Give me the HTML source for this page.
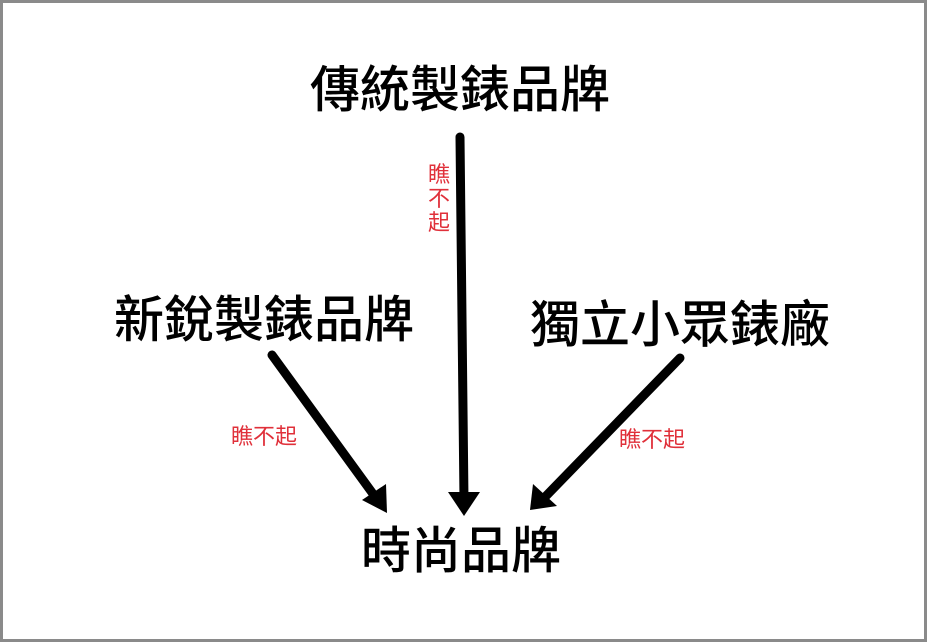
<!DOCTYPE html>
<html><head><meta charset="utf-8"><style>
html,body{margin:0;padding:0}
body{width:927px;height:642px;position:relative;background:#fff;overflow:hidden;font-family:"Liberation Sans","Noto Sans CJK TC",sans-serif}
.frame{position:absolute;left:0;top:0;width:921px;height:636px;border:3px solid #8a8a8a}
.t{position:absolute;font-size:50px;color:#000;white-space:nowrap;line-height:1;font-weight:500}
.r{position:absolute;font-size:22px;color:#e0303a;line-height:1;white-space:nowrap}
svg{position:absolute;left:0;top:0}
</style></head><body>
<div class="frame"></div>
<svg width="927" height="642">
<g stroke="#000" stroke-width="9" stroke-linecap="round" fill="none">
<line x1="460" y1="137" x2="464" y2="500"/>
<line x1="272" y1="355" x2="376" y2="498"/>
<line x1="680" y1="358" x2="546" y2="496"/>
</g>
<g fill="#000">
<polygon points="448,492 480,492 464,516"/>
<polygon points="362,500 386,484 387,513"/>
<polygon points="533,484 557,506 530,510"/>
</g>
</svg>
<div class="t" style="left:310px;top:65px">傳統製錶品牌</div>
<div class="t" style="left:114px;top:295px">新銳製錶品牌</div>
<div class="t" style="left:530px;top:300px">獨立小眾錶廠</div>
<div class="t" style="left:361px;top:526px">時尚品牌</div>
<div class="r" style="left:428px;top:163px;width:22px;line-height:24px">瞧<br>不<br>起</div>
<div class="r" style="left:231px;top:426px">瞧不起</div>
<div class="r" style="left:619px;top:429px">瞧不起</div>
</body></html>
